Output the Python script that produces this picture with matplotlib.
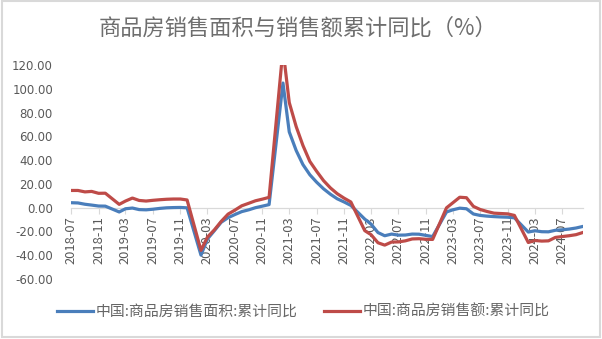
import pandas as pd
import matplotlib
matplotlib.use("Agg")
import matplotlib.pyplot as plt
import matplotlib.dates as mdates
from matplotlib.patches import Rectangle

plt.rcParams['font.family'] = ['Noto Sans CJK SC', 'DejaVu Sans']
plt.rcParams['axes.unicode_minus'] = False

# monthly cumulative data, January is reported together with February
months = pd.date_range('2018-07-01', '2024-10-01', freq='MS')
months = months[months.month != 1]

area_yoy = [
    4.2, 4.0, 2.9, 2.2, 1.4, 1.3,
    -3.6, -0.9, -0.3, -1.6, -1.8, -1.3, -0.6, -0.1, 0.1, 0.2, -0.1,
    -39.9, -26.3, -19.3, -12.3, -8.4, -5.8, -3.3, -1.8, 0.0, 1.3, 2.6,
    104.9, 63.8, 48.1, 36.3, 27.7, 21.5, 15.9, 11.3, 7.5, 4.8, 1.9,
    -9.6, -13.8, -20.9, -23.6, -22.2, -23.1, -23.0, -22.2, -22.3, -23.3, -24.3,
    -3.6, -1.8, -0.4, -0.9, -5.3, -6.5, -7.1, -7.5, -7.8, -8.0, -8.5,
    -20.5, -19.4, -20.2, -20.3, -19.0, -18.6, -18.0, -17.1, -15.8,
]
sales_yoy = [
    14.5, 14.5, 13.3, 13.7, 12.1, 12.2,
    2.8, 5.6, 8.1, 6.1, 5.6, 6.2, 6.7, 7.1, 7.3, 7.3, 6.5,
    -35.9, -24.7, -18.6, -11.6, -5.4, -2.1, 1.6, 3.7, 5.8, 7.2, 8.7,
    133.4, 88.5, 68.2, 52.4, 38.9, 30.7, 22.8, 16.6, 11.8, 8.0, 4.8,
    -19.3, -22.7, -29.5, -31.5, -28.9, -28.8, -27.9, -26.3, -26.1, -26.6, -26.7,
    -0.1, 4.1, 8.8, 8.4, 1.1, -1.5, -3.2, -4.6, -4.9, -5.2, -6.5,
    -29.3, -27.6, -28.1, -27.9, -25.0, -24.3, -23.6, -22.7, -20.9,
]

label_area = '中国:商品房销售面积:累计同比'
label_sales = '中国:商品房销售额:累计同比'
title = '商品房销售面积与销售额累计同比（%）'

grey = '#595959'
axis_grey = '#D9D9D9'

fig = plt.figure(figsize=(6.02, 3.39), dpi=100)
ax = fig.add_axes([0.118, 0.177, 0.850, 0.631])

ax.plot(months, area_yoy, color='#4A7EBB', lw=2.3, label=label_area,
        solid_joinstyle='round')
ax.plot(months, sales_yoy, color='#BE4B48', lw=2.3, label=label_sales,
        solid_joinstyle='round')

ax.set_ylim(-60, 120)
ax.set_yticks(range(-60, 121, 20))
ax.set_yticklabels(['%.2f' % v for v in range(-60, 121, 20)],
                   family='DejaVu Sans', fontsize=8.5, color=grey)
ax.set_xlim(pd.Timestamp('2018-07-01'), pd.Timestamp('2024-10-01'))
ax.xaxis.set_major_locator(mdates.MonthLocator(bymonth=(3, 7, 11)))
ax.xaxis.set_major_formatter(mdates.DateFormatter('%Y-%m'))
for lab in ax.get_xticklabels():
    lab.set_family('DejaVu Sans')
ax.tick_params(axis='x', labelsize=9.3, labelcolor=grey, rotation=90,
               length=4, width=0.8, color=axis_grey, pad=2)
ax.tick_params(axis='y', length=0, pad=13)

for side in ['top', 'right', 'left']:
    ax.spines[side].set_visible(False)
ax.spines['bottom'].set_position(('data', 0))
ax.spines['bottom'].set_color(axis_grey)
ax.spines['bottom'].set_linewidth(0.9)
ax.spines['bottom'].set_zorder(0)

fig.text(0.495, 0.917, title, ha='center', va='center', fontsize=16,
         color='#6E6E6E')

fig.legend(loc='center', bbox_to_anchor=(0.504, 0.080), ncol=2,
           frameon=False, fontsize=10.7, labelcolor='#666666',
           handlelength=2.4, handletextpad=0.2, columnspacing=1.8)

fig.patches.append(Rectangle((0.003, 0.006), 0.993, 0.99,
                             transform=fig.transFigure, fill=False,
                             edgecolor=axis_grey, lw=1.5))

fig.savefig('out.png', dpi=100)
